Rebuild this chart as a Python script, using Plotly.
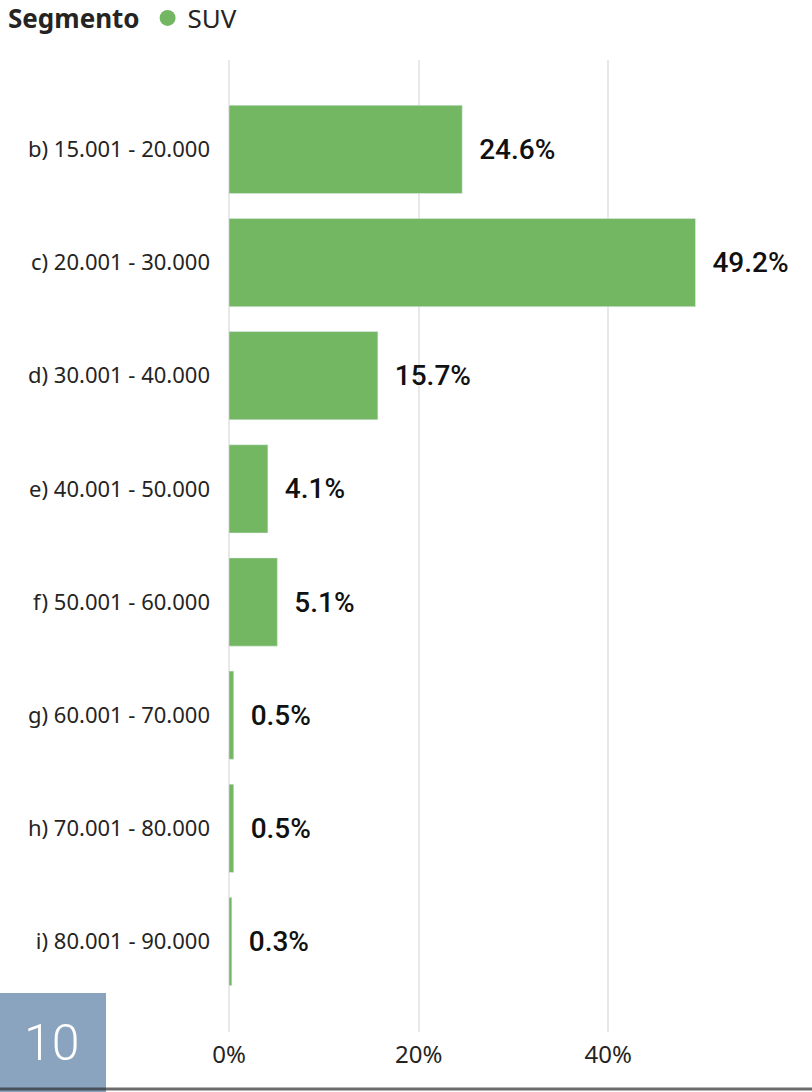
import plotly.graph_objects as go

categories = ["b) 15.001 - 20.000", "c) 20.001 - 30.000", "d) 30.001 - 40.000",
              "e) 40.001 - 50.000", "f) 50.001 - 60.000", "g) 60.001 - 70.000",
              "h) 70.001 - 80.000", "i) 80.001 - 90.000"]
suv_share = [24.6, 49.2, 15.7, 4.1, 5.1, 0.5, 0.5, 0.3]
series_name = "SUV"
legend_title = "Segmento"
page_number = "10"

W, H = 812, 1092
L, R, T, B = 229, 16, 60, 60
green = "#74B762"

# pixel -> paper helpers for the decorations outside the plot area
def px(x):
    return (x - L) / (W - L - R)

def py(y):
    return (H - B - y) / (H - T - B)

fig = go.Figure()
fig.add_trace(go.Bar(
    x=suv_share, y=categories, orientation="h",
    marker=dict(color=green), width=0.78,
    texttemplate="\u00a0\u00a0%{x:.1f}%", textposition="outside",
    textfont=dict(family="Roboto", size=28, weight=500, color="#111111"),
    cliponaxis=False, showlegend=False, hoverinfo="skip",
))
# legend entry with a round marker
fig.add_trace(go.Scatter(
    x=[None], y=[None], mode="markers", name=series_name,
    marker=dict(color=green, size=20, symbol="circle"),
))

fig.update_layout(
    width=W, height=H,
    margin=dict(l=L, r=R, t=T, b=B, autoexpand=False),
    plot_bgcolor="white", paper_bgcolor="white",
    font=dict(family="Noto Sans", color="#252423"),
    bargap=0.22,
    legend=dict(
        title=dict(text="<b>" + legend_title + "</b>", font=dict(size=26, color="#252423")),
        orientation="h", x=6 / W, y=1 - 18 / H, xref="container", yref="container",
        xanchor="left", yanchor="middle", font=dict(size=26, color="#252423"),
        itemwidth=30, bgcolor="rgba(0,0,0,0)",
    ),
    xaxis=dict(
        range=[0, 59.8], dtick=20, tick0=0, ticksuffix="%",
        showgrid=True, gridcolor="#E8E8E8", gridwidth=2,
        zeroline=True, zerolinecolor="#E8E8E8", zerolinewidth=2,
        showline=False, tickfont=dict(size=24, color="#252423"),
        ticklabelstandoff=6, fixedrange=True,
    ),
    yaxis=dict(
        categoryorder="array", categoryarray=categories,
        range=[len(categories) - 1 + 0.8, -0.79],
        showgrid=False, zeroline=False, showline=False,
        tickfont=dict(size=22, color="#252423"),
        ticklabelstandoff=18, fixedrange=True,
    ),
    shapes=[
        dict(type="rect", xref="paper", yref="paper",
             x0=px(0), x1=px(106), y0=py(993), y1=py(H),
             fillcolor="#8AA3BE", line=dict(width=0), layer="above"),
        dict(type="line", xref="paper", yref="paper",
             x0=px(0), x1=px(W), y0=py(1089), y1=py(1089),
             line=dict(color="rgba(45,45,45,0.7)", width=3), layer="above"),
    ],
    annotations=[
        dict(text=page_number, xref="paper", yref="paper",
             x=px(51), y=py(1043), xanchor="center", yanchor="middle",
             showarrow=False,
             font=dict(family="Roboto", size=50, weight=300, color="white")),
    ],
)

fig.write_html("out.html", config={"displayModeBar": False},
               post_script="document.body.style.margin='0';")
